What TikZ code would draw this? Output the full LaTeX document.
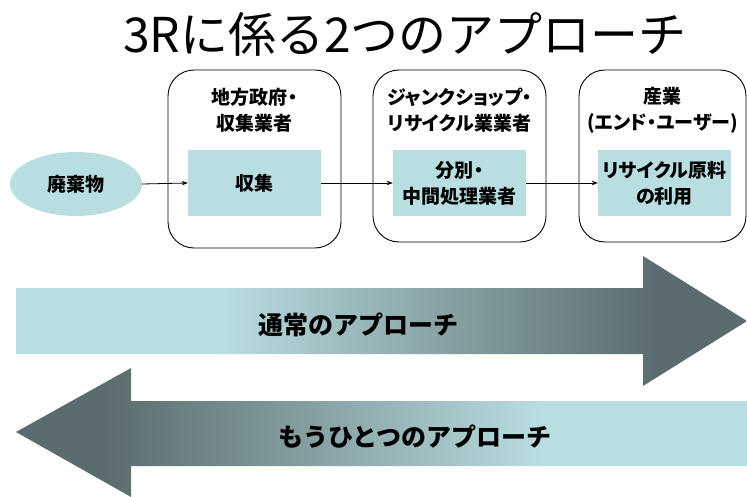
\documentclass[tikz,border=0pt]{standalone}
\usepackage{fontspec}
\setmainfont{Noto Sans CJK JP}
\newfontfamily\jpp[RawFeature=+palt]{Noto Sans CJK JP}
\usetikzlibrary{shapes.geometric,arrows.meta}
\definecolor{lightteal}{HTML}{B9DEE2}
\definecolor{midteal}{HTML}{859FA1}
\definecolor{darkteal}{HTML}{5A6C6D}
\pgfdeclarehorizontalshading{toright}{100bp}{color(0bp)=(lightteal); color(39bp)=(lightteal); color(55bp)=(midteal); color(69bp)=(darkteal); color(100bp)=(darkteal)}
\pgfdeclarehorizontalshading{toleft}{100bp}{color(0bp)=(darkteal); color(31bp)=(darkteal); color(45bp)=(midteal); color(61bp)=(lightteal); color(100bp)=(lightteal)}
\tikzset{
  stagebox/.style={draw=black, line width=0.9pt, rounded corners=26pt, minimum width=173pt, minimum height=172pt, inner sep=0pt},
  innerbox/.style={fill=lightteal, minimum width=133pt, minimum height=66pt, inner sep=0pt, align=center, font=\jpp\bfseries\fontsize{19}{26}\selectfont},
  headtext/.style={align=center, inner sep=0pt, font=\jpp\bfseries\fontsize{19}{26}\selectfont},
  flow/.style={draw=black, line width=0.8pt, -{Stealth[length=6pt,width=4.5pt]}},
  bigtext/.style={inner sep=0pt, font=\bfseries\fontsize{25}{30}\selectfont}
}
\begin{document}
\begin{tikzpicture}[x=1pt,y=-1pt]
\useasboundingbox (0,0) rectangle (747,497);
% title
\node[inner sep=0pt, font=\fontsize{48}{52}\selectfont] (title) at (405,34) {3Rに係る2つのアプローチ};
% stage boxes
\node[stagebox, minimum height=178pt] (box1) at (254.5,159) {};
\node[stagebox] (box2) at (459.5,156) {};
\node[stagebox, minimum width=167pt] (box3) at (662.5,156) {};
\node[headtext] (h1) at (254.5,110) {地方政府・\\収集業者};
\node[headtext] (h2) at (459.5,110) {ジャンクショップ・\\リサイクル業業者};
\node[headtext] (h3) at (662.5,110) {産業\\(エンド・ユーザー)};
% inner boxes
\node[innerbox] (in1) at (254.5,183) {収集};
\node[innerbox] (in2) at (459.5,183) {分別・\\中間処理業者};
\node[innerbox] (in3) at (664.5,183) {リサイクル原料\\の利用};
% waste
\node[ellipse, fill=lightteal, minimum width=132pt, minimum height=64pt, inner sep=0pt, font=\jpp\bfseries\fontsize{19}{26}\selectfont] (waste) at (76,184) {廃棄物};
% connectors
\draw[flow] (waste.east) -- (in1.west);
\draw[flow] (in1.east) -- (in2.west);
\draw[flow] (in2.east) -- (in3.west);
% big arrows
\shade[shading=toright] (16,288) -- (643,288) -- (643,256) -- (747,321) -- (643,386) -- (643,354) -- (16,354) -- cycle;
\shade[shading=toleft] (747,401) -- (131,401) -- (131,368) -- (16,432) -- (131,497) -- (131,466) -- (747,466) -- cycle;
\node[bigtext] (usual) at (358,325) {通常のアプローチ};
\node[bigtext] (other) at (415,437) {もうひとつのアプローチ};
\end{tikzpicture}
\end{document}
